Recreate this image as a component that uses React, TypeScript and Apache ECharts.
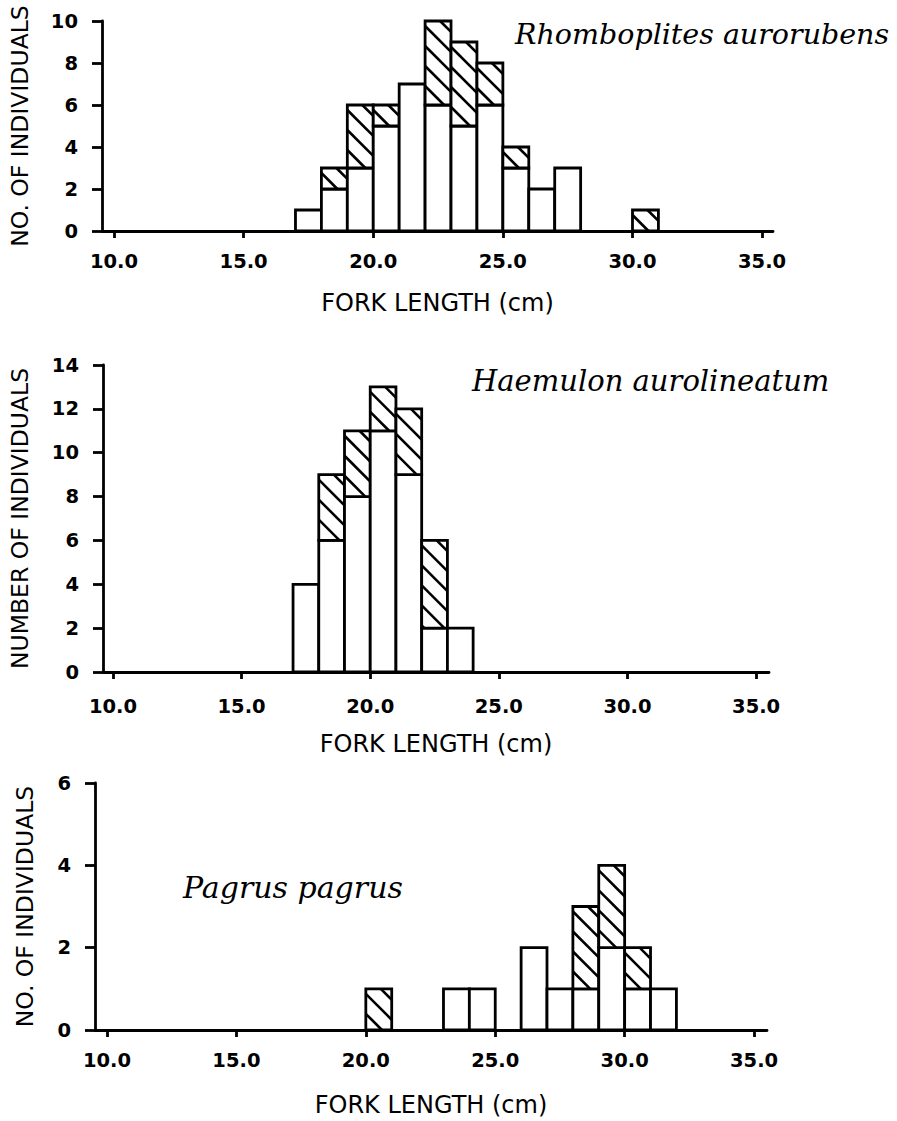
import React, { useEffect, useRef } from 'react';
import * as echarts from 'echarts';

// Fork-length bins (cm, lower edge of each 1-cm bin)
const X_TICKS = [10, 15, 20, 25, 30, 35];

// Rhomboplites aurorubens
const RA_BINS = [17, 18, 19, 20, 21, 22, 23, 24, 25, 26, 27, 30];
const RA_OPEN = [1, 2, 3, 5, 7, 6, 5, 6, 3, 2, 3, 0];
const RA_HATCH = [0, 1, 3, 1, 0, 4, 4, 2, 1, 0, 0, 1];

// Haemulon aurolineatum
const HA_BINS = [17, 18, 19, 20, 21, 22, 23];
const HA_OPEN = [4, 6, 8, 11, 9, 2, 2];
const HA_HATCH = [0, 3, 3, 2, 3, 4, 0];

// Pagrus pagrus
const PP_BINS = [20, 23, 24, 26, 27, 28, 29, 30, 31];
const PP_OPEN = [0, 1, 1, 2, 1, 1, 2, 1, 1];
const PP_HATCH = [1, 0, 0, 0, 0, 2, 2, 1, 0];

const TITLES = ['Rhomboplites aurorubens', 'Haemulon aurolineatum', 'Pagrus pagrus'];
const X_NAME = 'FORK LENGTH (cm)';
const Y_NAMES = ['NO. OF INDIVIDUALS', 'NUMBER OF INDIVIDUALS', 'NO. OF INDIVIDUALS'];

const SANS = '"DejaVu Sans", sans-serif';
const SERIF = '"DejaVu Serif", serif';

const renderHist = (_params: any, api: any) => {
  const start = api.value(0);
  const open = api.value(1);
  const hatch = api.value(2);
  const pBase = api.coord([start, 0]);
  const pOpen = api.coord([start + 1, open]);
  const pTop = api.coord([start + 1, open + hatch]);
  const L = pBase[0];
  const R = pOpen[0];
  const B = pBase[1];
  const children: any[] = [];
  const lineStyle = { stroke: '#000', lineWidth: 2.8 };
  if (open > 0) {
    children.push({
      type: 'rect',
      shape: { x: L, y: pOpen[1], width: R - L, height: B - pOpen[1] },
      style: { fill: '#fff', ...lineStyle },
    });
  }
  if (hatch > 0) {
    const T = pTop[1];
    const Bh = pOpen[1];
    children.push({
      type: 'rect',
      shape: { x: L, y: T, width: R - L, height: Bh - T },
      style: { fill: '#fff', ...lineStyle },
    });
    const d = 20;
    const base = T - L + 5;
    const cMin = T - R;
    const cMax = Bh - L;
    let c = base - Math.ceil((base - cMin) / d) * d;
    for (; c <= cMax; c += d) {
      const xa = Math.max(L, T - c);
      const xb = Math.min(R, Bh - c);
      if (xb - xa > 1.5) {
        children.push({
          type: 'line',
          shape: { x1: xa, y1: xa + c, x2: xb, y2: xb + c },
          style: { stroke: '#000', lineWidth: 2.6 },
        });
      }
    }
  }
  return { type: 'group', children };
};

const PANELS = [
  { grid: { left: 102, top: 21, width: 671, height: 210 }, min: 9.537, max: 35.42, yMax: 10, xLabelMargin: 20, xNameGap: 72, yNameGap: 82 },
  { grid: { left: 100, top: 365, width: 669, height: 307 }, min: 9.613, max: 35.5, yMax: 14, xLabelMargin: 24, xNameGap: 72, yNameGap: 83 },
  { grid: { left: 95, top: 783, width: 672, height: 247 }, min: 9.536, max: 35.5, yMax: 6, xLabelMargin: 20, xNameGap: 75, yNameGap: 70 },
];

const DATA = [
  RA_BINS.map((b, i) => [b, RA_OPEN[i], RA_HATCH[i]]),
  HA_BINS.map((b, i) => [b, HA_OPEN[i], HA_HATCH[i]]),
  PP_BINS.map((b, i) => [b, PP_OPEN[i], PP_HATCH[i]]),
];

export default function App() {
  const ref = useRef<HTMLDivElement>(null);
  useEffect(() => {
    if (!ref.current) return;
    const chart = echarts.init(ref.current, null, { renderer: 'svg' });
    const axisLine = { show: true, onZero: false, lineStyle: { color: '#000', width: 2.8 } };
    const option: any = {
      animation: false,
      backgroundColor: '#fff',
      grid: PANELS.map((p) => ({ ...p.grid, containLabel: false })),
      xAxis: PANELS.map((p, i) => ({
        type: 'value',
        gridIndex: i,
        min: p.min,
        max: p.max,
        axisLine,
        axisTick: { show: true, customValues: X_TICKS, length: 7, lineStyle: { color: '#000', width: 2.8 } },
        axisLabel: {
          customValues: X_TICKS,
          formatter: (v: number) => v.toFixed(1),
          margin: p.xLabelMargin,
          fontSize: 19.5,
          fontWeight: 'bold',
          fontFamily: SANS,
          color: '#000',
        },
        splitLine: { show: false },
        name: X_NAME,
        nameLocation: 'middle',
        nameGap: p.xNameGap,
        nameTextStyle: { fontSize: 24, fontFamily: SANS, color: '#000', verticalAlign: 'middle' },
      })),
      yAxis: PANELS.map((p, i) => ({
        type: 'value',
        gridIndex: i,
        min: 0,
        max: p.yMax,
        interval: 2,
        axisLine,
        axisTick: { show: true, length: 10, lineStyle: { color: '#000', width: 2.8 } },
        axisLabel: { margin: 24, fontSize: 19.5, fontWeight: 'bold', fontFamily: SANS, color: '#000' },
        splitLine: { show: false },
        name: Y_NAMES[i],
        nameLocation: 'middle',
        nameGap: p.yNameGap,
        nameRotate: 90,
        nameTextStyle: { fontSize: 23.5, fontFamily: SANS, color: '#000', verticalAlign: 'middle' },
      })),
      series: DATA.map((d, i) => ({
        type: 'custom',
        xAxisIndex: i,
        yAxisIndex: i,
        renderItem: renderHist,
        encode: { x: 0, y: [1, 2] },
        clip: false,
        data: d,
      })),
      graphic: [
        { type: 'text', x: 515, y: 34, style: { text: TITLES[0], font: `italic 28.5px ${SERIF}`, fill: '#000', verticalAlign: 'middle' } },
        { type: 'text', x: 472, y: 381, style: { text: TITLES[1], font: `italic 29px ${SERIF}`, fill: '#000', verticalAlign: 'middle' } },
        { type: 'text', x: 183, y: 887, style: { text: TITLES[2], font: `italic 30px ${SERIF}`, fill: '#000', verticalAlign: 'middle' } },
      ],
    };
    chart.setOption(option);
    return () => chart.dispose();
  }, []);
  return (
    <div
      ref={ref}
      style={{ position: 'absolute', left: 0, top: 0, width: 897, height: 1121, background: '#fff' }}
    />
  );
}
